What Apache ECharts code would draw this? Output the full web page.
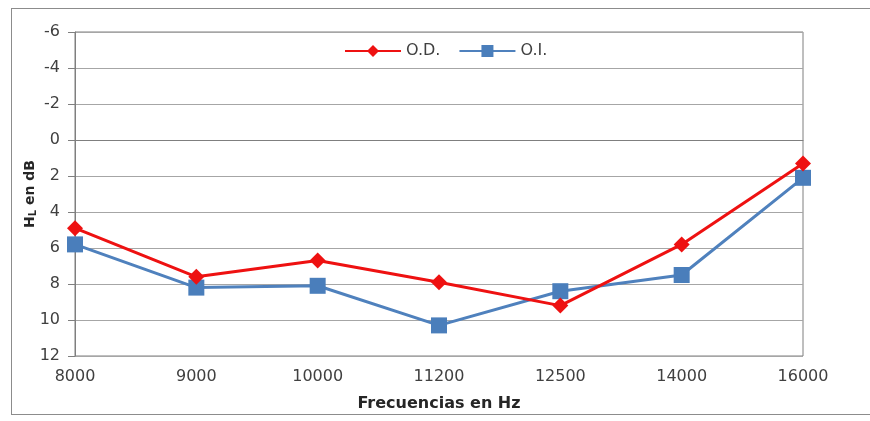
<!DOCTYPE html>
<html>
<head>
<meta charset="utf-8">
<script src="https://cdn.jsdelivr.net/npm/echarts@6/dist/echarts.min.js"></script>
<style>
  html, body { margin: 0; padding: 0; background: #fff; overflow: hidden; }
  #frame { position: absolute; left: 11px; top: 8px; right: 0; height: 407px;
           border-top: 1px solid #8c8c8c; border-left: 1px solid #8c8c8c; border-bottom: 1px solid #8c8c8c; box-sizing: border-box; }
  #chart { position: absolute; left: 0; top: 0; width: 870px; height: 421px; }
</style>
</head>
<body>
<div id="frame"></div>
<div id="chart"></div>
<script>
// Frequencies (Hz) and hearing levels (dB) for each ear
const frequencies = ['8000', '9000', '10000', '11200', '12500', '14000', '16000'];
const rightEar = [4.9, 7.6, 6.7, 7.9, 9.2, 5.8, 1.3];   // O.D.
const leftEar  = [5.8, 8.2, 8.1, 10.3, 8.4, 7.5, 2.1];  // O.I.
const seriesNames = ['O.D.', 'O.I.'];

const chart = echarts.init(document.getElementById('chart'), null, { renderer: 'canvas' });
const tickFont = { fontFamily: 'DejaVu Sans, Verdana, sans-serif', fontSize: 16, color: '#404040' };
const titleFont = { fontFamily: 'DejaVu Sans, Verdana, sans-serif', fontSize: 14, fontWeight: 'bold', color: '#262626' };

chart.setOption({
  animation: false,
  backgroundColor: 'transparent',
  legend: {
    top: 41,
    left: 338,
    itemGap: 18,
    itemWidth: 56,
    itemHeight: 15,
    padding: [2, 6],
    backgroundColor: '#fff',
    textStyle: tickFont,
    data: seriesNames
  },
  grid: {
    left: 75, right: 67, top: 32, bottom: 65,
    show: true, borderColor: '#7f7f7f', borderWidth: 1
  },
  xAxis: {
    type: 'category',
    data: frequencies,
    boundaryGap: false,
    name: 'Frecuencias en Hz',
    nameLocation: 'middle',
    nameGap: 40,
    nameMoveOverlap: false,
    nameTextStyle: Object.assign({}, titleFont, { fontSize: 16 }),
    axisLine: { lineStyle: { color: '#7f7f7f' } },
    axisTick: { show: false },
    axisLabel: Object.assign({ margin: 13 }, tickFont)
  },
  yAxis: {
    type: 'value',
    inverse: true,
    min: -6, max: 12, interval: 2,
    name: '{m|H}{s|L}{m| en dB}',
    nameLocation: 'middle',
    nameGap: 37,
    nameMoveOverlap: false,
    nameRotate: 90,
    nameTextStyle: {
      rich: {
        m: titleFont,
        s: Object.assign({}, titleFont, { fontSize: 10, verticalAlign: 'bottom', padding: [6, 0, 0, 0] })
      }
    },
    axisLine: { show: true, lineStyle: { color: '#7f7f7f' } },
    axisTick: { show: true, length: 7, lineStyle: { color: '#7f7f7f' } },
    splitLine: { lineStyle: { color: '#a6a6a6', width: 1 } },
    axisLabel: Object.assign({ margin: 15 }, tickFont)
  },
  series: [
    {
      name: seriesNames[0],
      type: 'line',
      data: rightEar,
      symbol: 'diamond',
      symbolSize: 16,
      lineStyle: { color: '#ee1111', width: 3 },
      itemStyle: { color: '#ee1111' },
      z: 3
    },
    {
      name: seriesNames[1],
      type: 'line',
      data: leftEar,
      symbol: 'rect',
      symbolSize: 16,
      lineStyle: { color: '#4f81bd', width: 3 },
      itemStyle: { color: '#4a7ebb' },
      z: 2
    }
  ]
});
</script>
</body>
</html>
